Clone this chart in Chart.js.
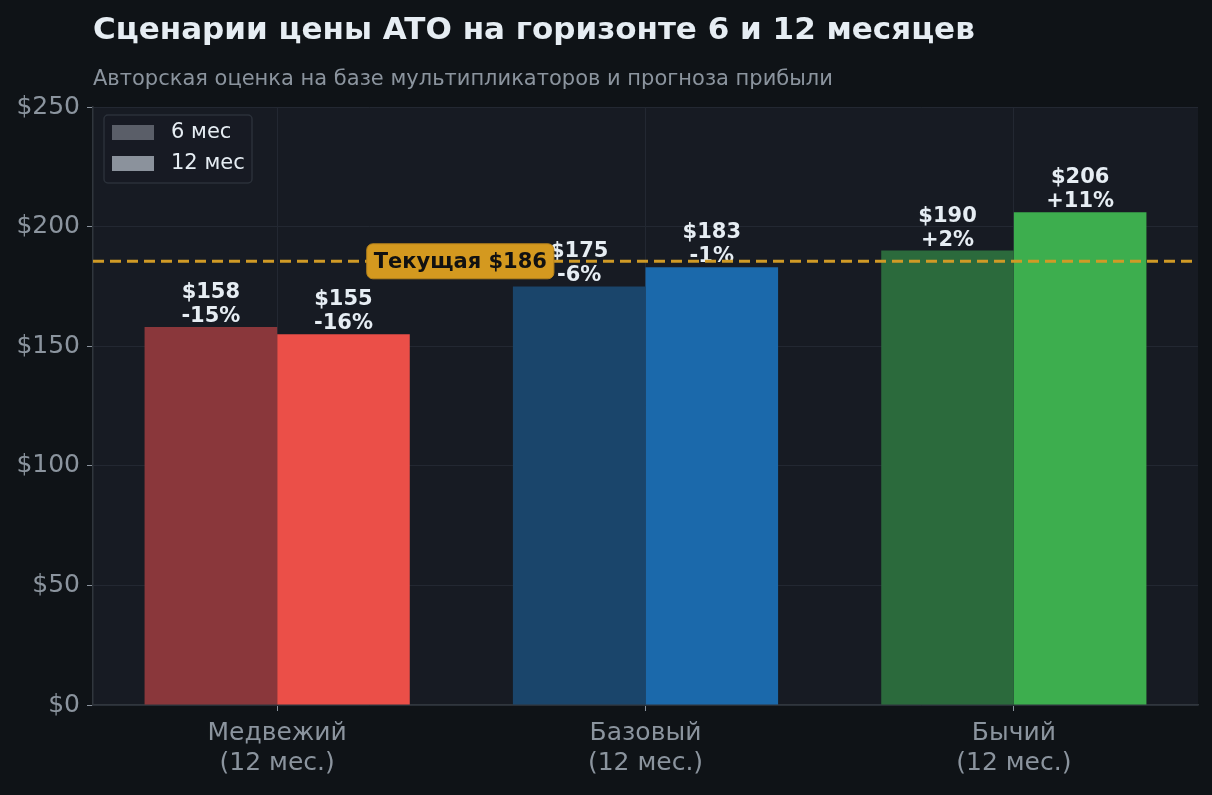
<!DOCTYPE html>
<html>
<head>
<meta charset="utf-8">
<script src="https://cdn.jsdelivr.net/npm/chart.js@4.4.1/dist/chart.umd.min.js"></script>
<style>
html,body{margin:0;padding:0;background:#0f1317;}
#wrap{width:1212px;height:795px;position:relative;}
</style>
</head>
<body>
<div id="wrap"><canvas id="c" width="1212" height="795"></canvas></div>
<script>
const categories = [['Медвежий','(12 мес.)'], ['Базовый','(12 мес.)'], ['Бычий','(12 мес.)']];
const values6 = [158, 175, 190];
const values12 = [155, 183, 206];
const pct6 = ['-15%', '-6%', '+2%'];
const pct12 = ['-16%', '-1%', '+11%'];
const currentPrice = 185.5;
const currentLabel = 'Текущая $186';
const seriesLabels = ['6 мес', '12 мес'];
const titleText = 'Сценарии цены ATO на горизонте 6 и 12 месяцев';
const subtitleText = 'Авторская оценка на базе мультипликаторов и прогноза прибыли';

const colors6 = ['#8a373b', '#1a456b', '#2b6a3c'];
const colors12 = ['#eb4f48', '#1b69ab', '#3dae4e'];
const legendColors = ['#5a5e68', '#8b929c'];
const FONT = "'DejaVu Sans', sans-serif";
const TXT = '#e6edf3';
const MUTED = '#8b949e';

const decor = {
  id: 'decor',
  beforeDraw(chart) {
    const {ctx, chartArea: a} = chart;
    ctx.save();
    ctx.fillStyle = '#0f1317';
    ctx.fillRect(0, 0, chart.width, chart.height);
    ctx.fillStyle = '#171b23';
    ctx.fillRect(a.left, a.top, a.right - a.left, a.bottom - a.top);
    ctx.restore();
  },
  afterDatasetsDraw(chart) {
    const {ctx, chartArea: a, scales} = chart;
    const ys = scales.y, xs = scales.x;
    ctx.save();
    // value labels
    ctx.fillStyle = TXT;
    ctx.font = 'bold 21px ' + FONT;
    ctx.textAlign = 'center';
    ctx.textBaseline = 'alphabetic';
    const lists = [[values6, pct6], [values12, pct12]];
    lists.forEach((pair, di) => {
      const meta = chart.getDatasetMeta(di);
      meta.data.forEach((bar, i) => {
        const v = pair[0][i];
        const y = ys.getPixelForValue(v) - 5;
        ctx.fillText(pair[1][i], bar.x, y);
        ctx.fillText('$' + v, bar.x, y - 24);
      });
    });
    // current price line
    const yc = ys.getPixelForValue(currentPrice);
    ctx.strokeStyle = '#d09a26';
    ctx.lineWidth = 3;
    ctx.setLineDash([11, 6]);
    ctx.beginPath();
    ctx.moveTo(a.left, yc);
    ctx.lineTo(a.right, yc);
    ctx.stroke();
    ctx.setLineDash([]);
    // label box
    const cx = (xs.getPixelForValue(0) + xs.getPixelForValue(1)) / 2;
    ctx.font = 'bold 21px ' + FONT;
    const tw = ctx.measureText(currentLabel).width;
    const bw = tw + 14, bh = 35;
    const bx = cx - bw / 2 - 1, by = yc - bh / 2;
    ctx.fillStyle = '#d4991f';
    ctx.strokeStyle = '#b7841c';
    ctx.lineWidth = 1;
    ctx.beginPath();
    ctx.roundRect(bx, by, bw, bh, 6);
    ctx.fill();
    ctx.stroke();
    ctx.fillStyle = '#111111';
    ctx.textAlign = 'center';
    ctx.textBaseline = 'middle';
    ctx.fillText(currentLabel, cx - 1, yc + 1);
    // legend
    const lx = 104, ly = 115, lw = 148, lh = 68;
    ctx.fillStyle = 'rgba(23,27,35,0.9)';
    ctx.strokeStyle = '#2b313a';
    ctx.lineWidth = 1.5;
    ctx.beginPath();
    ctx.roundRect(lx, ly, lw, lh, 4);
    ctx.fill();
    ctx.stroke();
    ctx.font = '21px ' + FONT;
    ctx.textAlign = 'left';
    ctx.textBaseline = 'middle';
    seriesLabels.forEach((lab, i) => {
      const ry = ly + 10 + i * 31;
      ctx.fillStyle = legendColors[i];
      ctx.fillRect(lx + 8, ry, 42, 15);
      ctx.fillStyle = TXT;
      ctx.fillText(lab, lx + 67, ry + 8);
    });
    // title & subtitle
    ctx.textBaseline = 'alphabetic';
    ctx.fillStyle = TXT;
    ctx.font = 'bold 31px ' + FONT;
    ctx.fillText(titleText, a.left, 39);
    ctx.fillStyle = MUTED;
    ctx.font = '21px ' + FONT;
    ctx.fillText(subtitleText, a.left, 85);
    ctx.restore();
  }
};

new Chart(document.getElementById('c'), {
  type: 'bar',
  data: {
    labels: categories,
    datasets: [
      {label: seriesLabels[0], data: values6, backgroundColor: colors6, borderWidth: 0},
      {label: seriesLabels[1], data: values12, backgroundColor: colors12, borderWidth: 0}
    ]
  },
  options: {
    responsive: false,
    animation: false,
    devicePixelRatio: 1,
    layout: {padding: {top: 107, right: 14, bottom: 0, left: 0}},
    datasets: {bar: {categoryPercentage: 0.72, barPercentage: 1.0}},
    plugins: {legend: {display: false}, tooltip: {enabled: false}, title: {display: false}},
    scales: {
      x: {
        afterFit(s) { s.height = 90; },
        grid: {color: '#232832', lineWidth: 1, offset: false, tickLength: 6, tickColor: MUTED, drawOnChartArea: true},
        border: {color: '#30363d', width: 1.5},
        ticks: {color: MUTED, font: {family: FONT, size: 25, lineHeight: 1.2}, padding: 7, maxRotation: 0}
      },
      y: {
        min: 0, max: 250,
        afterFit(s) { s.width = 93; },
        grid: {color: '#232832', lineWidth: 1, tickLength: 6, tickColor: MUTED},
        border: {color: '#30363d', width: 1.5},
        ticks: {stepSize: 50, color: MUTED, font: {family: FONT, size: 25}, padding: 7,
          callback: v => '$' + v}
      }
    }
  },
  plugins: [decor]
});
</script>
</body>
</html>
